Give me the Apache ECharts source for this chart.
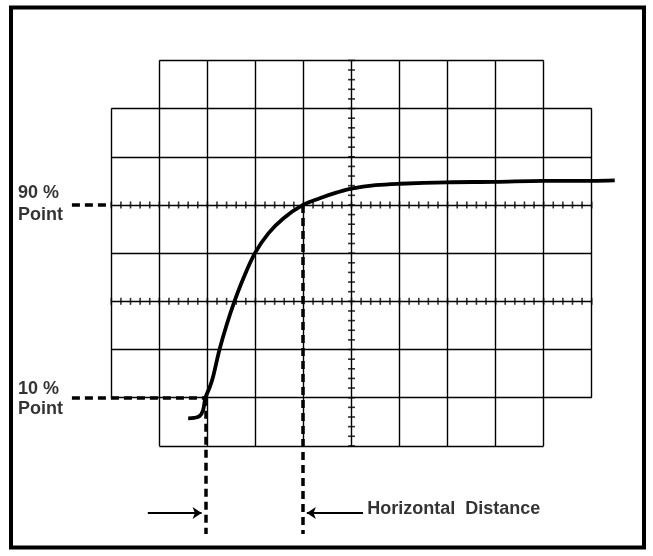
<!DOCTYPE html>
<html>
<head>
<meta charset="utf-8">
<script src="https://cdn.jsdelivr.net/npm/echarts@6/dist/echarts.min.js"></script>
<style>
html,body{margin:0;padding:0;background:#fff;}
#chart{width:653px;height:556px;}
</style>
</head>
<body>
<div id="chart"></div>
<script>
// ---- Data (graticule divisions: x 0..10, y 0..8) ----
// Graticule horizontal lines: [y, xFrom, xTo]
const hLines = [[8,1,9],[7,0,10],[6,0,10],[5,0,10],[4,0,10],[3,0,10],[2,0,10],[1,0,10],[0,1,9]];
// Graticule vertical lines: [x, yFrom, yTo]
const vLines = [[0,1,7],[1,0,8],[2,0,8],[3,0,8],[4,0,8],[5,0,8],[6,0,8],[7,0,8],[8,0,8],[9,0,8],[10,1,7]];
// Lines carrying minor ticks
const tickedRows = [5, 3];
const tickedCols = [5];
const minorPerDiv = 5;

// Rise-time trace (divisions)
const curveX = [1.60, 1.72, 1.84, 1.91, 1.96, 2.05, 2.12, 2.25, 2.40, 2.56, 2.75, 2.99, 3.27, 3.58, 3.99, 4.34, 4.70, 5.00, 5.50, 6.01, 6.98, 7.99, 8.99, 10.00, 10.48];
const curveY = [0.57, 0.58, 0.62, 0.74, 1.00, 1.22, 1.44, 1.99, 2.51, 2.99, 3.48, 4.00, 4.41, 4.72, 5.00, 5.14, 5.26, 5.34, 5.41, 5.44, 5.47, 5.48, 5.50, 5.50, 5.51];

// 10% and 90% points
const pt10 = [1.96, 1.0];
const pt90 = [3.99, 5.0];
const labelEdgeX = -0.82;   // left end of horizontal dashed lines
const dashBottomY = -1.83;  // bottom end of vertical dashed lines
const arrowY = -1.39;
const arrowLeft = [0.76, 1.88];   // from, to
const arrowRight = [5.24, 4.07];  // from, to

// Text annotations: [x, y, text]
const texts = [
  [-1.94, 5.24, '90 %'],
  [-1.94, 4.80, 'Point'],
  [-1.94, 1.19, '10 %'],
  [-1.94, 0.76, 'Point'],
  [5.33, -1.31, 'Horizontal  Distance']
];

// ---- Build ----
// Pixel scale: 1 division = 48.04 px horizontally, 48.19 px vertically;
// origin (0,0) at pixel (111.3, 445.9). Axes span the whole canvas.
const W = 653, H = 556, X0 = 111.3, Y0 = 445.9, SX = 48.04, SY = 48.19;

const gratSegs = [];
hLines.forEach(h => gratSegs.push({coords: [[h[1], h[0]], [h[2], h[0]]]}));
vLines.forEach(v => gratSegs.push({coords: [[v[0], v[1]], [v[0], v[2]]]}));

const rowTicks = [];
tickedRows.forEach(r => {
  const l = hLines.find(h => h[0] === r);
  for (let i = l[1] * minorPerDiv; i <= l[2] * minorPerDiv; i++) rowTicks.push([i / minorPerDiv, r]);
});
const colTicks = [];
tickedCols.forEach(c => {
  const l = vLines.find(v => v[0] === c);
  for (let i = l[1] * minorPerDiv; i <= l[2] * minorPerDiv; i++) colTicks.push([c, i / minorPerDiv]);
});

const dashSegs = [
  {coords: [[labelEdgeX, pt10[1]], [pt10[0], pt10[1]]]},
  {coords: [[labelEdgeX, pt90[1]], [0, pt90[1]]]},
  {coords: [[pt10[0], pt10[1]], [pt10[0], dashBottomY]]},
  {coords: [[pt90[0], pt90[1]], [pt90[0], dashBottomY]]}
];
const arrowSegs = [
  {coords: [[arrowLeft[0], arrowY], [arrowLeft[1], arrowY]]},
  {coords: [[arrowRight[0], arrowY], [arrowRight[1], arrowY]]}
];

const FONT = 'Liberation Sans';
const chart = echarts.init(document.getElementById('chart'), null, {renderer: 'canvas'});
chart.setOption({
  animation: false,
  backgroundColor: '#fff',
  grid: {left: 0, top: 0, width: W, height: H, containLabel: false},
  xAxis: {type: 'value', min: -X0 / SX, max: (W - X0) / SX, show: false},
  yAxis: {type: 'value', min: (Y0 - H) / SY, max: Y0 / SY, show: false},
  graphic: [{
    type: 'rect', shape: {x: 11, y: 7.5, width: 633, height: 540},
    style: {fill: 'none', stroke: '#000', lineWidth: 4}, silent: true
  }],
  series: [
    {type: 'lines', coordinateSystem: 'cartesian2d', silent: true,
     lineStyle: {color: '#000', width: 1.4, opacity: 1}, data: gratSegs},
    {type: 'scatter', silent: true, symbol: 'rect', symbolSize: [1.6, 7],
     itemStyle: {color: '#000'}, data: rowTicks},
    {type: 'scatter', silent: true, symbol: 'rect', symbolSize: [7, 1.6],
     itemStyle: {color: '#000'}, data: colTicks},
    {type: 'lines', coordinateSystem: 'cartesian2d', silent: true,
     lineStyle: {color: '#000', width: 3.5, type: [8, 5], opacity: 1}, data: dashSegs},
    {type: 'lines', coordinateSystem: 'cartesian2d', silent: true,
     symbol: ['none', 'arrow'], symbolSize: [0, 9],
     lineStyle: {color: '#000', width: 1.8, opacity: 1}, data: arrowSegs},
    {type: 'line', silent: true, showSymbol: false, smooth: 0.35,
     lineStyle: {color: '#000', width: 3.8}, data: curveX.map((x, i) => [x, curveY[i]])},
    {type: 'scatter', silent: true, symbolSize: 0,
     data: texts,
     label: {show: true, position: 'right', distance: 0, formatter: p => p.value[2],
             color: '#000', fontFamily: FONT, fontWeight: 'bold', fontSize: 18}}
  ]
});
</script>
</body>
</html>
